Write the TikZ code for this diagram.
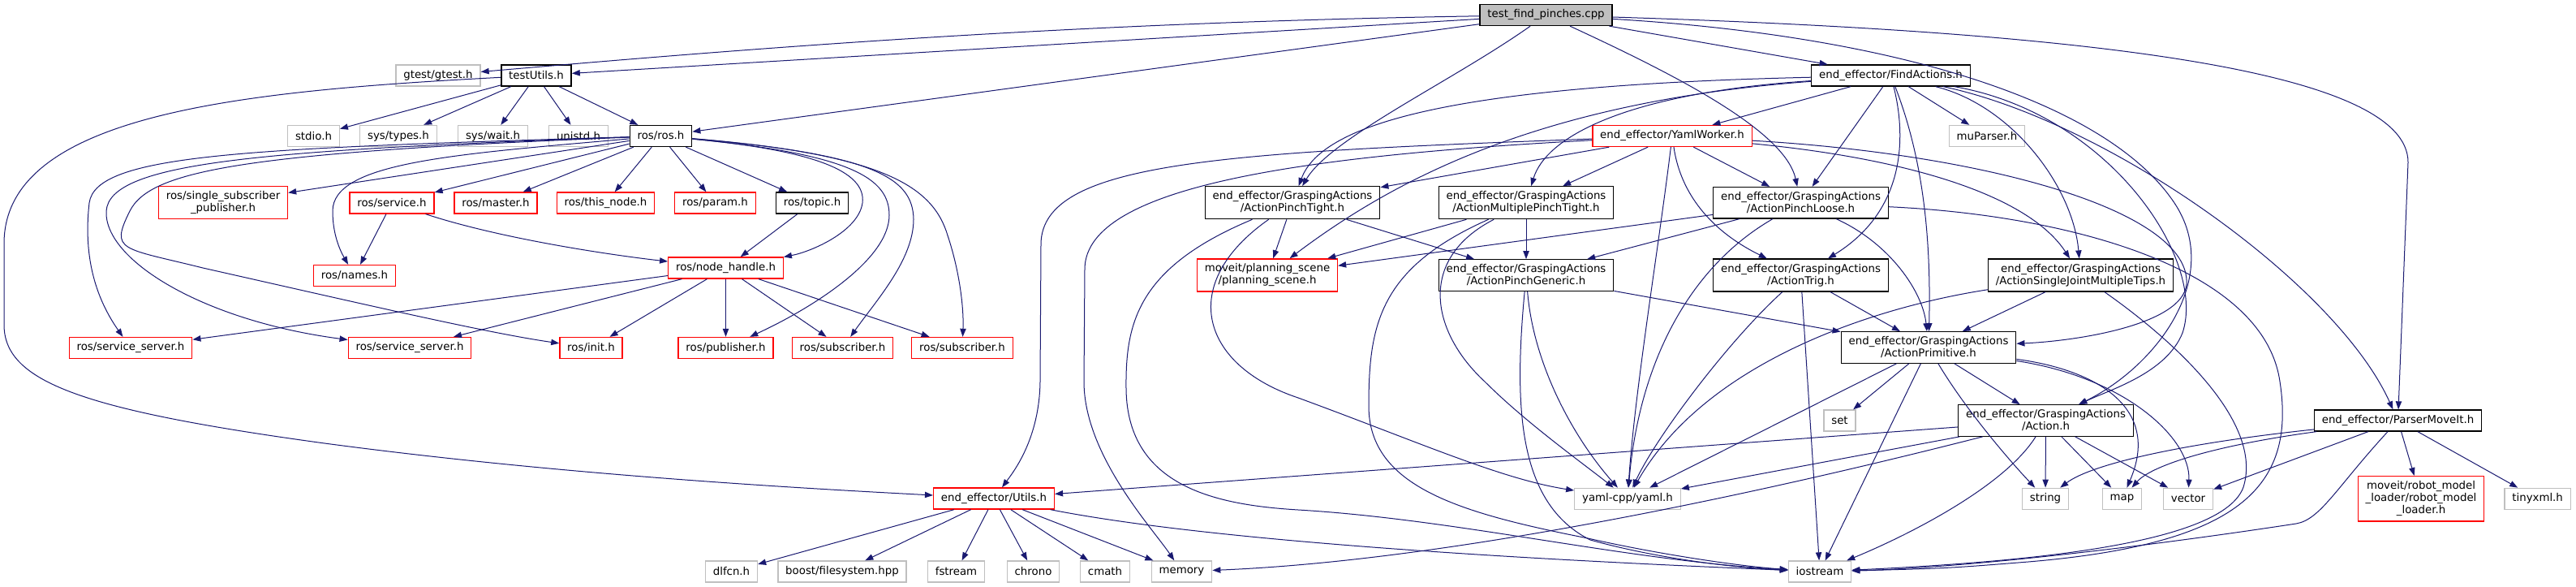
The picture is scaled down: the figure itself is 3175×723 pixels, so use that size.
\documentclass[tikz,border=0pt]{standalone}
\usepackage{fontspec}
\setmainfont{DejaVu Sans}
\usepackage{xcolor}
\usetikzlibrary{arrows.meta}
\definecolor{edgeblue}{HTML}{191970}
\definecolor{grey75}{HTML}{BFBFBF}

\begin{document}
\begin{tikzpicture}[x=0.75pt,y=-0.75pt,
    hdr/.style={draw=black, fill=white, line width=1pt, align=center, inner xsep=7pt, inner ysep=4.5pt,
      minimum height=19.5pt, font=\fontsize{10}{11.25}\selectfont},
    sys/.style={hdr, draw=grey75},
    trunc/.style={hdr, draw=red},
    inc/.style={draw=edgeblue, line width=0.75pt, -{Triangle[length=7.5pt,width=5.5pt]}}]
    \useasboundingbox (0,0) rectangle (3175,723);

    % top rows
    \node[hdr, fill=grey75] (root) at (1905.5,18.5) {test\_find\_pinches.cpp};
    \node[sys] (gtest) at (540,93) {gtest/gtest.h};
    \node[hdr] (testutils) at (661,93) {testUtils.h};
    \node[hdr] (findact) at (2330.5,93) {end\_effector/FindActions.h};
    \node[sys] (stdio) at (386.5,167.5) {stdio.h};
    \node[sys] (systypes) at (491,167.5) {sys/types.h};
    \node[sys] (syswait) at (607.5,167.5) {sys/wait.h};
    \node[sys] (unistd) at (713,167.5) {unistd.h};
    \node[hdr] (ros) at (814.5,167.5) {ros/ros.h};
    \node[trunc] (yamlworker) at (2061,167.5) {end\_effector/YamlWorker.h};
    \node[sys] (muparser) at (2449,167.5) {muParser.h};

    % ros headers
    \node[trunc] (singlesub) at (275,249.5) {ros/single\_subscriber\\\_publisher.h};
    \node[trunc] (service) at (483,250) {ros/service.h};
    \node[trunc] (master) at (611,250) {ros/master.h};
    \node[trunc] (thisnode) at (746.5,250) {ros/this\_node.h};
    \node[trunc] (param) at (881.5,250) {ros/param.h};
    \node[hdr] (topic) at (1001,250) {ros/topic.h};
    \node[trunc] (names) at (437,339.5) {ros/names.h};
    \node[trunc] (nodehandle) at (894.5,330) {ros/node\_handle.h};
    \node[trunc] (srvserverA) at (161,428.5) {ros/service\_server.h};
    \node[trunc] (srvserverB) at (505,428.5) {ros/service\_server.h};
    \node[trunc] (init) at (728.5,428.5) {ros/init.h};
    \node[trunc] (publisher) at (894.5,428.5) {ros/publisher.h};
    \node[trunc] (subscriberA) at (1038.5,428.5) {ros/subscriber.h};
    \node[trunc] (subscriberB) at (1186,428.5) {ros/subscriber.h};

    % grasping actions
    \node[hdr] (pinchtight) at (1593,249.7) {end\_effector/GraspingActions\\/ActionPinchTight.h};
    \node[hdr] (multipinch) at (1881,249.7) {end\_effector/GraspingActions\\/ActionMultiplePinchTight.h};
    \node[hdr] (pinchloose) at (2219.5,249.7) {end\_effector/GraspingActions\\/ActionPinchLoose.h};
    \node[trunc] (planscene) at (1562,339) {moveit/planning\_scene\\/planning\_scene.h};
    \node[hdr] (pinchgeneric) at (1881,339) {end\_effector/GraspingActions\\/ActionPinchGeneric.h};
    \node[hdr] (trig) at (2219.5,339) {end\_effector/GraspingActions\\/ActionTrig.h};
    \node[hdr] (sjmt) at (2564.5,339) {end\_effector/GraspingActions\\/ActionSingleJointMultipleTips.h};
    \node[hdr] (primitive) at (2377,428) {end\_effector/GraspingActions\\/ActionPrimitive.h};
    \node[sys] (set) at (2267.5,518) {set};
    \node[hdr] (action) at (2521.5,518) {end\_effector/GraspingActions\\/Action.h};
    \node[hdr] (parser) at (2955.5,518) {end\_effector/ParserMoveIt.h};

    % bottom rows
    \node[trunc] (utils) at (1225,614) {end\_effector/Utils.h};
    \node[sys] (yamlcpp) at (2006,614.3) {yaml-cpp/yaml.h};
    \node[sys] (string) at (2521,614.3) {string};
    \node[sys] (map) at (2615.5,614.3) {map};
    \node[sys] (vector) at (2697,614.3) {vector};
    \node[trunc] (robotloader) at (2984,614.3) {moveit/robot\_model\\\_loader/robot\_model\\\_loader.h};
    \node[sys] (tinyxml) at (3127.6,614.3) {tinyxml.h};
    \node[sys] (dlfcn) at (901.5,704) {dlfcn.h};
    \node[sys] (boostfs) at (1038,704) {boost/filesystem.hpp};
    \node[sys] (fstream) at (1178.5,704) {fstream};
    \node[sys] (chrono) at (1273.5,704) {chrono};
    \node[sys] (cmath) at (1362,704) {cmath};
    \node[sys] (memory) at (1456.5,704) {memory};
    \node[sys] (iostream) at (2243,704) {iostream};

    % root
    \draw[inc] (root) .. controls (1300,28) and (900,62) .. (gtest);
    \draw[inc] (root) -- (testutils);
    \draw[inc] (root) -- (ros);
    \draw[inc] (root) -- (findact);
    \draw[inc] (root) .. controls (1790,100) and (1640,170) .. (pinchtight);
    \draw[inc] (root) .. controls (2060,90) and (2200,160) .. (pinchloose);
    \draw[inc] (root) .. controls (2600,40) and (2968,90) .. (2968,200) -- (parser);
    \draw[inc] (root) .. controls (2350,45) and (2600,130) .. (2680,250) .. controls (2740,340) and (2660,450) .. (action);

    % testUtils.h
    \foreach \t in {stdio,systypes,syswait,unistd,ros}
    \draw[inc] (testutils) -- (\t);
    \draw[inc] (testutils) .. controls (300,112) and (5,140) .. (5,300) -- (5,400) .. controls (5,470) and (100,505) .. (400,546) .. controls (700,586) and (1000,602) .. (utils);

    % ros/ros.h
    \foreach \t in {singlesub,service,master,thisnode,param,topic}
    \draw[inc] (ros) -- (\t);
    \draw[inc] (ros) .. controls (560,190) and (410,200) .. (410,260) .. controls (410,290) and (420,310) .. (names);
    \draw[inc] (ros) .. controls (1000,185) and (1068,210) .. (1063,250) .. controls (1058,285) and (1000,310) .. (nodehandle);
    \draw[inc] (ros) .. controls (1050,190) and (1096,220) .. (1096,265) .. controls (1096,320) and (1000,380) .. (publisher);
    \draw[inc] (ros) .. controls (1080,190) and (1125,220) .. (1126,270) .. controls (1126,320) and (1080,370) .. (subscriberA);
    \draw[inc] (ros) .. controls (1090,190) and (1150,230) .. (1168,290) .. controls (1183,335) and (1188,380) .. (subscriberB);
    \draw[inc] (ros) .. controls (300,183) and (118,190) .. (110,250) .. controls (102,320) and (120,370) .. (srvserverA);
    \draw[inc] (ros) .. controls (320,185) and (135,200) .. (131,260) .. controls (128,320) and (250,395) .. (srvserverB);
    \draw[inc] (ros) .. controls (300,188) and (185,210) .. (160,260) .. controls (135,310) and (150,305) .. (250,330) .. controls (450,375) and (600,410) .. (init);
    \draw[inc] (service) -- (names);
    \draw[inc] (service) .. controls (620,295) and (760,315) .. (nodehandle);
    \draw[inc] (topic) -- (nodehandle);
    \foreach \t in {srvserverA,srvserverB,init,publisher,subscriberA,subscriberB}
    \draw[inc] (nodehandle) -- (\t);

    % FindActions.h
    \draw[inc] (findact) -- (yamlworker);
    \draw[inc] (findact) -- (pinchloose);
    \draw[inc] (findact) -- (muparser);
    \draw[inc] (findact) .. controls (1800,105) and (1630,150) .. (pinchtight);
    \draw[inc] (findact) .. controls (2000,115) and (1905,170) .. (multipinch);
    \draw[inc] (findact) .. controls (1900,125) and (1720,220) .. (planscene);
    \draw[inc] (findact) .. controls (2350,170) and (2348,260) .. (trig);
    \draw[inc] (findact) .. controls (2372,200) and (2380,300) .. (primitive);
    \draw[inc] (findact) .. controls (2480,130) and (2555,230) .. (sjmt);
    \draw[inc] (findact) .. controls (2600,140) and (2720,320) .. (2690,410) .. controls (2670,460) and (2600,480) .. (action);
    \draw[inc] (findact) .. controls (2600,150) and (2880,350) .. (parser);

    % YamlWorker.h
    \draw[inc] (yamlworker) -- (pinchtight);
    \draw[inc] (yamlworker) -- (multipinch);
    \draw[inc] (yamlworker) -- (pinchloose);
    \draw[inc] (yamlworker) .. controls (2070,230) and (2100,280) .. (trig);
    \draw[inc] (yamlworker) .. controls (2045,300) and (2015,480) .. (yamlcpp);
    \draw[inc] (yamlworker) .. controls (1500,188) and (1285,200) .. (1283,300) -- (1282,470) .. controls (1281,540) and (1250,580) .. (utils);
    \draw[inc] (yamlworker) .. controls (1600,192) and (1340,230) .. (1337,330) -- (1336,470) .. controls (1336,560) and (1420,650) .. (memory);
    \draw[inc] (yamlworker) .. controls (2350,195) and (2500,240) .. (sjmt);
    \draw[inc] (yamlworker) .. controls (2450,190) and (2700,260) .. (2695,350) .. controls (2690,400) and (2560,420) .. (primitive);

    % grasping actions
    \draw[inc] (pinchtight) -- (planscene);
    \draw[inc] (pinchtight) -- (pinchgeneric);
    \draw[inc] (pinchtight) .. controls (1450,350) and (1480,450) .. (1600,490) .. controls (1750,545) and (1850,590) .. (yamlcpp);
    \draw[inc] (pinchtight) .. controls (1400,330) and (1387,400) .. (1388,480) .. controls (1390,600) and (1500,622) .. (1600,628) .. controls (1800,640) and (2000,690) .. (iostream);
    \draw[inc] (multipinch) -- (planscene);
    \draw[inc] (multipinch) -- (pinchgeneric);
    \draw[inc] (multipinch) .. controls (1745,320) and (1765,410) .. (1830,470) .. controls (1880,520) and (1950,570) .. (yamlcpp);
    \draw[inc] (multipinch) .. controls (1700,330) and (1687,400) .. (1687,500) .. controls (1687,600) and (1800,632) .. (1957,663) .. controls (2050,684) and (2150,698) .. (iostream);
    \draw[inc] (pinchloose) -- (planscene);
    \draw[inc] (pinchloose) -- (pinchgeneric);
    \draw[inc] (pinchloose) .. controls (2080,330) and (2020,450) .. (yamlcpp);
    \draw[inc] (pinchloose) .. controls (2330,300) and (2370,360) .. (primitive);
    \draw[inc] (pinchloose) .. controls (2550,265) and (2790,330) .. (2810,470) .. controls (2830,600) and (2760,670) .. (2500,692) .. controls (2400,700) .. (iostream);
    \draw[inc] (pinchgeneric) -- (primitive);
    \draw[inc] (pinchgeneric) .. controls (1890,450) and (1940,540) .. (yamlcpp);
    \draw[inc] (pinchgeneric) .. controls (1866,500) and (1870,620) .. (1960,665) .. controls (2050,690) and (2150,700) .. (iostream);
    \draw[inc] (trig) -- (primitive);
    \draw[inc] (trig) .. controls (2130,420) and (2040,540) .. (yamlcpp);
    \draw[inc] (trig) -- (iostream);
    \draw[inc] (sjmt) -- (primitive);
    \draw[inc] (sjmt) .. controls (2300,380) and (2100,450) .. (yamlcpp);
    \draw[inc] (sjmt) .. controls (2680,420) and (2790,520) .. (2765,600) .. controls (2740,670) and (2500,692) .. (iostream);

    % ActionPrimitive.h, Action.h
    \foreach \t in {set,action,yamlcpp,iostream}
    \draw[inc] (primitive) -- (\t);
    \draw[inc] (primitive) .. controls (2420,500) and (2470,560) .. (string);
    \draw[inc] (primitive) .. controls (2580,455) and (2665,500) .. (map);
    \draw[inc] (primitive) .. controls (2620,465) and (2700,540) .. (vector);
    \draw[inc] (action) -- (utils);
    \draw[inc] (action) .. controls (2200,600) and (1800,690) .. (memory);
    \draw[inc] (action) -- (yamlcpp);
    \draw[inc] (action) .. controls (2470,600) and (2350,660) .. (iostream);
    \foreach \t in {string,map,vector}
    \draw[inc] (action) -- (\t);

    % ParserMoveIt.h
    \draw[inc] (parser) .. controls (2700,545) and (2580,570) .. (string);
    \draw[inc] (parser) .. controls (2720,550) and (2650,575) .. (map);
    \foreach \t in {vector,robotloader,tinyxml}
    \draw[inc] (parser) -- (\t);
    \draw[inc] (parser) .. controls (2880,600) and (2860,640) .. (2830,645) .. controls (2600,680) and (2400,700) .. (iostream);

    % Utils.h
    \foreach \t in {dlfcn,boostfs,fstream,chrono,cmath,memory}
    \draw[inc] (utils) -- (\t);
    \draw[inc] (utils) .. controls (1500,668) and (1900,690) .. (iostream);
\end{tikzpicture}
\end{document}
